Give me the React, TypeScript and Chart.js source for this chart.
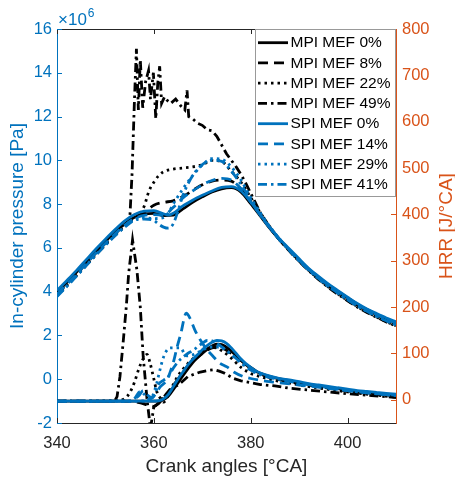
import React, { useEffect, useRef } from 'react';
import { Chart, registerables } from 'chart.js';

Chart.register(...registerables);

// ---------- tick values ----------
const xTicks = [340, 360, 380, 400];
const pressureTicks = [-2, 0, 2, 4, 6, 8, 10, 12, 14, 16];
const hrrTicks = [0, 100, 200, 300, 400, 500, 600, 700, 800];

const seriesLabels = [
  'MPI MEF 0%', 'MPI MEF 8%', 'MPI MEF 22%', 'MPI MEF 49%',
  'SPI MEF 0%', 'SPI MEF 14%', 'SPI MEF 29%', 'SPI MEF 41%',
];

// ---------- in-cylinder pressure [x10^6 Pa] : [crank angle, value] ----------
const pMpi0: [number, number][] = [[340,3.98],[342,4.42],[344,4.88],[346,5.36],[348,5.84],[350,6.3],[352,6.72],[354,7.1],[356,7.4],[358,7.55],[360,7.58],[362,7.48],[364,7.5],[366,7.78],[368,8.08],[370,8.33],[372,8.55],[374,8.7],[376,8.75],[378,8.55],[380,8.02],[382,7.45],[384,6.88],[386,6.36],[388,5.9],[390,5.45],[392,5.02],[394,4.66],[396,4.32],[398,4.02],[400,3.72],[402,3.43],[404,3.18],[406,2.97],[408,2.77],[410,2.58]];
const pMpi8: [number, number][] = [[340,3.9],[342,4.35],[344,4.8],[346,5.28],[348,5.76],[350,6.22],[352,6.65],[354,7.05],[356,7.38],[358,7.62],[360,7.95],[362,8.08],[364,8.15],[366,8.35],[368,8.62],[370,8.88],[372,9.05],[374,9.1],[376,9.05],[378,8.68],[380,8.1],[382,7.5],[384,6.9],[386,6.36],[388,5.88],[390,5.42],[392,5.0],[394,4.62],[396,4.28],[398,3.98],[400,3.68],[402,3.4],[404,3.15],[406,2.93],[408,2.73],[410,2.54]];
const pMpi22: [number, number][] = [[340,3.85],[342,4.3],[344,4.76],[346,5.24],[348,5.72],[350,6.18],[352,6.62],[354,7.02],[356,7.35],[357,7.5],[358,7.9],[359,8.6],[360,9.0],[361,9.3],[362,9.48],[364,9.6],[366,9.65],[368,9.7],[370,9.8],[372,10.0],[374,9.95],[376,9.5],[378,9.0],[380,8.3],[382,7.6],[384,6.95],[386,6.38],[388,5.88],[390,5.4],[392,4.97],[394,4.58],[396,4.22],[398,3.9],[400,3.6],[402,3.32],[404,3.07],[406,2.84],[408,2.63],[410,2.44]];
const pMpi49: [number, number][] = [[340,3.82],[342,4.27],[344,4.73],[346,5.2],[348,5.68],[350,6.14],[352,6.58],[354,6.98],[355,7.2],[355.5,9.4],[356,12.8],[356.4,15.1],[356.8,12.3],[357.2,14.6],[357.7,12.4],[358.3,13.6],[358.9,14.1],[359.3,12.8],[359.9,14.0],[360.4,11.9],[360.8,13.5],[361.2,14.3],[361.6,12.6],[362.2,12.9],[362.7,12.75],[363.5,12.6],[364.5,12.8],[365.5,12.5],[366.4,12.3],[366.85,13.2],[367.2,12.0],[368,11.9],[369,11.7],[370,11.6],[371,11.4],[372,11.35],[373,11.1],[374,10.7],[375,10.3],[376,10.0],[377,9.7],[378,9.35],[379,8.95],[380,8.5],[382,7.6],[384,6.92],[386,6.35],[388,5.85],[390,5.38],[392,4.95],[394,4.56],[396,4.2],[398,3.88],[400,3.58],[402,3.3],[404,3.05],[406,2.83],[408,2.62],[410,2.43]];
const pSpi0: [number, number][] = [[340,4.05],[342,4.5],[344,4.96],[346,5.45],[348,5.94],[350,6.4],[352,6.84],[354,7.24],[356,7.53],[358,7.68],[360,7.7],[362,7.56],[363,7.5],[364,7.58],[366,7.92],[368,8.18],[370,8.4],[372,8.6],[374,8.76],[376,8.8],[378,8.6],[380,8.1],[382,7.5],[384,6.92],[386,6.4],[388,5.95],[390,5.5],[392,5.06],[394,4.7],[396,4.36],[398,4.05],[400,3.75],[402,3.46],[404,3.21],[406,3.0],[408,2.8],[410,2.62]];
const pSpi14: [number, number][] = [[340,3.88],[342,4.33],[344,4.79],[346,5.27],[348,5.75],[350,6.21],[352,6.64],[354,7.04],[356,7.34],[358,7.48],[360,7.52],[362,7.5],[364,7.85],[366,8.28],[368,8.6],[370,8.88],[372,9.08],[374,9.18],[376,9.1],[378,8.7],[380,8.1],[382,7.5],[384,6.9],[386,6.37],[388,5.9],[390,5.44],[392,5.02],[394,4.64],[396,4.3],[398,4.0],[400,3.7],[402,3.42],[404,3.17],[406,2.95],[408,2.75],[410,2.56]];
const pSpi29: [number, number][] = [[340,3.8],[342,4.25],[344,4.72],[346,5.2],[348,5.68],[350,6.15],[352,6.58],[354,6.98],[356,7.3],[358,7.38],[360,7.34],[362,7.38],[363,7.6],[364,8.0],[366,8.7],[368,9.3],[370,9.78],[372,10.08],[374,10.05],[376,9.7],[378,9.1],[380,8.3],[382,7.6],[384,6.96],[386,6.4],[388,5.9],[390,5.42],[392,5.0],[394,4.6],[396,4.25],[398,3.94],[400,3.64],[402,3.36],[404,3.1],[406,2.88],[408,2.67],[410,2.48]];
const pSpi41: [number, number][] = [[340,3.78],[342,4.23],[344,4.7],[346,5.18],[348,5.66],[350,6.12],[352,6.55],[354,6.95],[356,7.26],[358,7.32],[360,7.25],[361,7.08],[362,6.95],[363,6.9],[364,7.1],[365,7.7],[366,8.4],[368,9.3],[370,9.8],[372,10.0],[374,9.95],[376,9.5],[378,8.9],[380,8.2],[382,7.5],[384,6.9],[386,6.36],[388,5.88],[390,5.4],[392,4.98],[394,4.6],[396,4.25],[398,3.93],[400,3.63],[402,3.35],[404,3.1],[406,2.88],[408,2.67],[410,2.48]];

// ---------- heat release rate [J/°CA] : [crank angle, value] ----------
const hMpi0: [number, number][] = [[340,-3],[350,-3],[358,-3],[361,-3],[362,0],[363,8],[364,22],[366,52],[368,80],[370,100],[372,116],[373,120],[374,119],[376,105],[378,85],[380,68],[382,57],[384,50],[386,45],[388,41],[390,37],[394,30],[398,24],[402,18],[406,13],[410,9]];
const hMpi8: [number, number][] = [[340,-3],[355,-3],[357,-6],[359,-12],[360,-14],[361,-8],[362,5],[363,18],[365,45],[366,60],[368,84],[370,100],[371,107],[372,112],[373,114],[374,112],[376,100],[378,85],[380,70],[382,56],[384,48],[387,41],[390,35],[395,27],[400,19],[405,13],[410,8]];
const hMpi22: [number, number][] = [[340,-3],[352,-2],[354,3],[355,15],[356,38],[357,70],[358,92],[358.6,98],[359.2,80],[360,45],[360.6,18],[361.3,4],[362,-5],[363,10],[364,33],[365,52],[366,66],[367,78],[368,88],[369,96],[370,103],[371,110],[372,113],[373,112],[374,106],[376,90],[378,70],[380,57],[382,50],[384,44],[387,38],[390,32],[395,24],[400,17],[405,11],[410,6]];
const hMpi49: [number, number][] = [[340,-3],[351,-3],[352,-1],[352.4,7],[353,50],[353.7,129],[354.3,200],[354.8,273],[355.6,345],[356.5,280],[357.2,200],[357.8,93],[358.6,0],[359.3,-62],[360,-15],[361,-7],[362,6],[363.4,21],[365.5,36],[367,50],[369.6,60],[371,63],[372.5,65],[373.5,62],[374.5,58],[376.5,46],[378,41],[380,37],[382,33],[385,30],[388,25],[392,21],[396,17],[400,13],[405,9],[410,5]];
const hSpi0: [number, number][] = [[340,-3],[350,-3],[358,-3],[361,-2],[362,2],[363,12],[364,28],[365,45],[366,60],[367,75],[368,87],[369,97],[370,108],[371,117],[372,124],[373,128],[374,127],[375,122],[376,112],[377,100],[378,88],[379,78],[380,70],[381,63],[382,58],[384,51],[386,46],[388,43],[390,39],[392,35],[394,32],[396,29],[398,26],[400,23],[402,20],[404,18],[406,16],[408,14],[410,12]];
const hSpi14: [number, number][] = [[340,-3],[355,-3],[356,2],[357,10],[357.8,20],[358.5,12],[359.5,5],[360.5,15],[361.3,28],[362.7,43],[364,80],[364.8,114],[365.5,140],[366.7,187],[367.5,175],[368.5,150],[369.6,129],[371,108],[372.3,93],[373.5,80],[375.1,71],[376.5,60],[378.5,50],[380,46],[382,42],[385,38],[390,32],[395,26],[400,20],[405,14],[410,10]];
const hSpi29: [number, number][] = [[340,-3],[356,-3],[358,-2],[359.3,2],[360,15],[360.6,36],[361.2,62],[361.8,86],[362.5,104],[363.4,112],[365.5,112],[366.3,100],[366.8,95],[368,97],[369,102],[370.5,110],[371.7,114],[373.7,114],[375,106],[376.5,93],[378,80],[380,66],[382,56],[384,49],[387,43],[390,37],[395,29],[400,21],[405,15],[410,9]];
const hSpi41: [number, number][] = [[340,-3],[355,-3],[356,3],[357.2,18],[358,12],[359,2],[360,8],[361,34],[362,42],[363,50],[364,68],[365,82],[366,92],[367,100],[368,106],[369,114],[370,122],[371,128],[372,127],[373,122],[374.5,110],[376,98],[378,80],[380,64],[382,54],[384,48],[387,42],[390,36],[395,28],[400,20],[405,14],[410,9]];

const pressureSeries = [pMpi0, pMpi8, pMpi22, pMpi49, pSpi0, pSpi14, pSpi29, pSpi41];
const hrrSeries = [hMpi0, hMpi8, hMpi22, hMpi49, hSpi0, hSpi14, hSpi29, hSpi41];

// ---------- styles ----------
const BLUE = '#0072BD';
const ORANGE = '#D95319';
const DARK = '#262626';
const FONT = '"Liberation Sans", Arial, Helvetica, sans-serif';
const DASH_SOLID: number[] = [];
const DASH_DASHED = [10, 6];
const DASH_DOTTED = [2.5, 4];
const DASH_DASHDOT = [9, 4, 2.5, 4];
const seriesColors = ['#000000', '#000000', '#000000', '#000000', BLUE, BLUE, BLUE, BLUE];
const seriesDashes = [DASH_SOLID, DASH_DASHED, DASH_DOTTED, DASH_DASHDOT, DASH_SOLID, DASH_DASHED, DASH_DOTTED, DASH_DASHDOT];
const LINE_W = 2.8;

const decorPlugin = {
  id: 'decor',
  afterDraw(chart: any) {
    const { ctx, chartArea: a, scales } = chart;
    ctx.save();
    ctx.lineWidth = 1;
    ctx.setLineDash([]);
    // top box edge
    ctx.strokeStyle = DARK;
    ctx.beginPath();
    ctx.moveTo(a.left, a.top + 0.5);
    ctx.lineTo(a.right, a.top + 0.5);
    ctx.stroke();
    // inner ticks on x (bottom and top)
    for (const v of xTicks) {
      const px = Math.round(scales.x.getPixelForValue(v)) + 0.5;
      ctx.beginPath();
      ctx.moveTo(px, a.bottom);
      ctx.lineTo(px, a.bottom - 5);
      ctx.moveTo(px, a.top);
      ctx.lineTo(px, a.top + 5);
      ctx.stroke();
    }
    // inner ticks on left axis
    ctx.strokeStyle = BLUE;
    for (const v of pressureTicks) {
      const py = Math.round(scales.y.getPixelForValue(v)) + 0.5;
      ctx.beginPath();
      ctx.moveTo(a.left, py);
      ctx.lineTo(a.left + 5, py);
      ctx.stroke();
    }
    // inner ticks on right axis
    ctx.strokeStyle = ORANGE;
    for (const v of hrrTicks) {
      const py = Math.round(scales.y1.getPixelForValue(v)) + 0.5;
      ctx.beginPath();
      ctx.moveTo(a.right, py);
      ctx.lineTo(a.right - 5, py);
      ctx.stroke();
    }
    // exponent label
    ctx.fillStyle = BLUE;
    ctx.textAlign = 'left';
    ctx.textBaseline = 'alphabetic';
    ctx.font = `17px ${FONT}`;
    ctx.fillText('\u00d710', a.left + 1, a.top - 4);
    const w = ctx.measureText('\u00d710').width;
    ctx.font = `12px ${FONT}`;
    ctx.fillText('6', a.left + 1 + w + 1, a.top - 12);
    // right axis title
    ctx.save();
    ctx.translate(447, (a.top + a.bottom) / 2);
    ctx.rotate(-Math.PI / 2);
    ctx.fillStyle = ORANGE;
    ctx.font = `19px ${FONT}`;
    ctx.textAlign = 'center';
    ctx.textBaseline = 'middle';
    ctx.fillText('HRR [J/\u00b0CA]', 0, 0);
    ctx.restore();
    // legend
    const lx = 255.5, ly = a.top + 0.5, lw = a.right - 0.5 - lx, lh = 167;
    ctx.fillStyle = '#ffffff';
    ctx.fillRect(lx, ly, lw, lh);
    ctx.strokeStyle = '#999999';
    ctx.lineWidth = 1;
    ctx.strokeRect(lx, ly, lw, lh);
    ctx.font = `15.5px ${FONT}`;
    ctx.textBaseline = 'middle';
    ctx.textAlign = 'left';
    for (let i = 0; i < seriesLabels.length; i++) {
      const cy = 42.7 + i * 20.25;
      ctx.strokeStyle = seriesColors[i];
      ctx.lineWidth = LINE_W;
      ctx.setLineDash(seriesDashes[i]);
      ctx.beginPath();
      ctx.moveTo(258, cy);
      ctx.lineTo(288, cy);
      ctx.stroke();
      ctx.setLineDash([]);
      ctx.fillStyle = '#000000';
      ctx.fillText(seriesLabels[i], 290.5, cy + 0.5);
    }
    ctx.restore();
  },
};

export default function App() {
  const canvasRef = useRef<HTMLCanvasElement | null>(null);

  useEffect(() => {
    const canvas = canvasRef.current;
    if (!canvas) return;
    const datasets: any[] = [];
    pressureSeries.forEach((d, i) => {
      datasets.push({
        label: seriesLabels[i] + ' p',
        data: d,
        yAxisID: 'y',
        borderColor: seriesColors[i],
        borderDash: seriesDashes[i],
        borderWidth: LINE_W,
        pointRadius: 0,
        fill: false,
        tension: 0,
        cubicInterpolationMode: i === 3 ? 'default' : 'monotone',
        clip: 0,
        order: 20 - i,
      });
    });
    hrrSeries.forEach((d, i) => {
      datasets.push({
        label: seriesLabels[i] + ' hrr',
        data: d,
        yAxisID: 'y1',
        borderColor: seriesColors[i],
        borderDash: seriesDashes[i],
        borderWidth: LINE_W,
        pointRadius: 0,
        fill: false,
        tension: 0,
        cubicInterpolationMode: i === 3 ? 'default' : 'monotone',
        clip: 0,
        order: 10 - i,
      });
    });

    const chart = new Chart(canvas, {
      type: 'line',
      data: { datasets },
      plugins: [decorPlugin],
      options: {
        animation: false,
        responsive: false,
        devicePixelRatio: 1,
        layout: { padding: { top: 29, left: 0, right: 0, bottom: 0 } },
        plugins: { legend: { display: false }, tooltip: { enabled: false } },
        elements: { line: { borderCapStyle: 'butt', borderJoinStyle: 'miter' } },
        scales: {
          x: {
            type: 'linear',
            position: 'bottom',
            min: 340,
            max: 410,
            afterBuildTicks: (s: any) => { s.ticks = xTicks.map((v) => ({ value: v })); },
            afterFit: (s: any) => { s.height = 57; },
            grid: { display: false, drawTicks: false },
            border: { display: true, color: DARK, width: 1 },
            ticks: { color: DARK, font: { size: 16.5, family: FONT }, padding: 11, maxRotation: 0 },
            title: { display: true, text: 'Crank angles [\u00b0CA]', color: DARK, font: { size: 19, family: FONT, lineHeight: 1 }, padding: { top: 0, bottom: 4 } },
          },
          y: {
            type: 'linear',
            position: 'left',
            min: -2,
            max: 16,
            afterBuildTicks: (s: any) => { s.ticks = pressureTicks.map((v) => ({ value: v })); },
            afterFit: (s: any) => { s.width = 57; },
            grid: { display: false, drawTicks: false },
            border: { display: true, color: BLUE, width: 1 },
            ticks: { color: BLUE, font: { size: 16.5, family: FONT }, padding: 5 },
            title: { display: true, text: 'In-cylinder pressure [Pa]', color: BLUE, font: { size: 19, family: FONT, lineHeight: 1 }, padding: { top: 8.5, bottom: 0 } },
          },
          y1: {
            type: 'linear',
            position: 'right',
            min: -50,
            max: 800,
            afterBuildTicks: (s: any) => { s.ticks = hrrTicks.map((v) => ({ value: v })); },
            afterFit: (s: any) => { s.width = 59; },
            grid: { display: false, drawTicks: false },
            border: { display: true, color: ORANGE, width: 1 },
            ticks: { color: ORANGE, font: { size: 16.5, family: FONT }, padding: 6 },
          },
        },
      } as any,
    });
    return () => chart.destroy();
  }, []);

  return (
    <div style={{ position: 'fixed', left: 0, top: 0, width: 455, height: 480, background: '#ffffff' }}>
      <canvas ref={canvasRef} width={455} height={480} style={{ display: 'block' }} />
    </div>
  );
}
